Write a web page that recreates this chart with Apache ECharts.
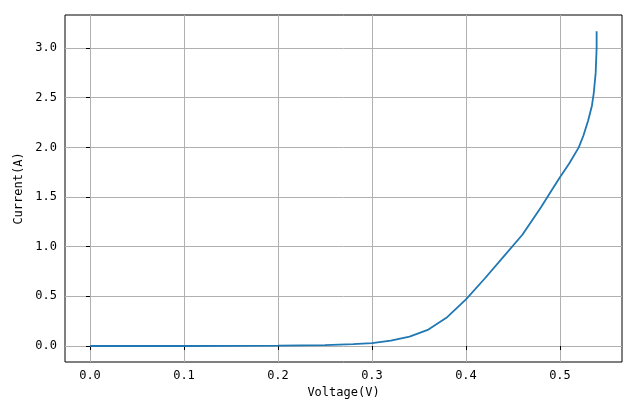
<!DOCTYPE html><html><head><meta charset="utf-8"><script src="https://cdn.jsdelivr.net/npm/echarts@6/dist/echarts.min.js"></script></head><body style="margin:0"><div id="c" style="width:640px;height:409px"></div><script>
const voltage=[0,0.05,0.1,0.15,0.2,0.25,0.28,0.3,0.32,0.34,0.36,0.38,0.4,0.42,0.44,0.46,0.48,0.49,0.5,0.51,0.52,0.525,0.53,0.534,0.536,0.538,0.539,0.539];
const current=[0,0,0,0.001,0.003,0.008,0.018,0.03,0.055,0.095,0.165,0.29,0.47,0.68,0.9,1.12,1.4,1.55,1.7,1.84,2.0,2.12,2.27,2.42,2.55,2.75,3.0,3.17];
const xTicks=[0,0.1,0.2,0.3,0.4,0.5];
const yTicks=[0,0.5,1,1.5,2,2.5,3];
const f='"DejaVu Sans Mono", monospace';
const ch=echarts.init(document.getElementById('c'));
ch.setOption({animation:false,
grid:{left:65,right:18,top:15,bottom:47,show:true,borderColor:'#000',borderWidth:1},
xAxis:{type:'value',min:-0.0266,max:0.566,name:'Voltage(V)',nameLocation:'middle',nameGap:24,nameTextStyle:{fontFamily:f,fontSize:12,color:'#000'},
axisLine:{show:false},axisTick:{show:true,inside:false,length:4,lineStyle:{color:'#000'},customValues:xTicks},
axisLabel:{fontFamily:f,fontSize:12,color:'#000',customValues:xTicks,formatter:v=>v.toFixed(1)},
splitLine:{show:true,lineStyle:{color:'#b0b0b0'}}},
yAxis:{type:'value',min:-0.161,max:3.333,name:'Current(A)',nameLocation:'middle',nameGap:40,nameTextStyle:{fontFamily:f,fontSize:12,color:'#000'},
axisLine:{show:false},axisTick:{show:true,length:4,lineStyle:{color:'#000'},customValues:yTicks},
axisLabel:{fontFamily:f,fontSize:12,color:'#000',customValues:yTicks,formatter:v=>v.toFixed(1)},
splitLine:{show:true,lineStyle:{color:'#b0b0b0'}}},
series:[{type:'line',data:voltage.map((v,i)=>[v,current[i]]),showSymbol:false,lineStyle:{color:'#1f77b4',width:1.8}}]});
</script></body></html>
